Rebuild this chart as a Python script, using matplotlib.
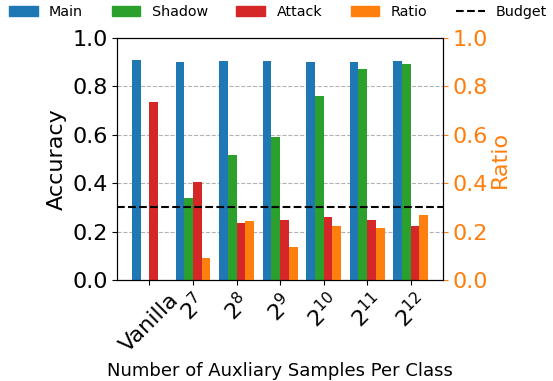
import matplotlib
matplotlib.use("Agg")
import matplotlib.pyplot as plt
import numpy as np
from matplotlib.patches import Patch
from matplotlib.lines import Line2D

categories = ["Vanilla", "$2^7$", "$2^8$", "$2^9$", "$2^{10}$", "$2^{11}$", "$2^{12}$"]
main_acc = [0.909, 0.901, 0.905, 0.905, 0.901, 0.901, 0.905]
shadow_acc = [0.0, 0.340, 0.517, 0.591, 0.760, 0.872, 0.893]
attack_acc = [0.737, 0.405, 0.237, 0.248, 0.260, 0.248, 0.223]
ratio = [0.0, 0.091, 0.245, 0.136, 0.223, 0.215, 0.269]
budget = 0.3

fig = plt.figure(figsize=(5.53, 3.81), dpi=100)
ax = fig.add_axes([0.212, 0.265, 0.589, 0.635])
ax2 = ax.twinx()

x = np.arange(len(categories))
w = 0.2
ax.bar(x - 1.5 * w, main_acc, w, color="#1f77b4", label="Main")
ax.bar(x - 0.5 * w, shadow_acc, w, color="#2ca02c", label="Shadow")
ax.bar(x + 0.5 * w, attack_acc, w, color="#d62728", label="Attack")
ax2.bar(x + 1.5 * w, ratio, w, color="#ff7f0e", label="Ratio")
ax.axhline(budget, color="black", linestyle="--", linewidth=1.5)

ax.set_ylim(0, 1.0)
ax2.set_ylim(0, 1.0)
ax.set_axisbelow(True)
ax.yaxis.grid(True, linestyle="--", color="gray", alpha=0.6)
ax.set_xticks(x)
ax.set_xticklabels(categories, rotation=45, fontsize=16)
ax.tick_params(axis="y", labelsize=16)
ax2.tick_params(axis="y", labelsize=16, colors="#ff7f0e")
ax.set_ylabel("Accuracy", fontsize=16)
ax2.set_ylabel("Ratio", fontsize=16, color="#ff7f0e", labelpad=1)
ax.set_xlabel("Number of Auxliary Samples Per Class", fontsize=13)

handles = [Patch(color="#1f77b4", label="Main"),
           Patch(color="#2ca02c", label="Shadow"),
           Patch(color="#d62728", label="Attack"),
           Patch(color="#ff7f0e", label="Ratio"),
           Line2D([0], [0], color="black", linestyle="--", label="Budget")]
fig.legend(handles=handles, loc="upper center", bbox_to_anchor=(0.503, 1.02), ncol=5,
           frameon=False, fontsize=10.3)

fig.savefig("out.png", dpi=100)
